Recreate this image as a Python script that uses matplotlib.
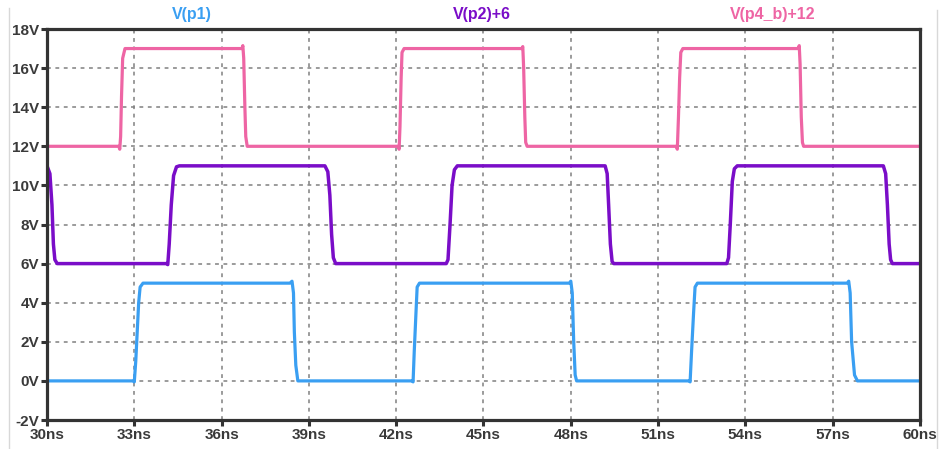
import matplotlib
matplotlib.use("Agg")
import matplotlib.pyplot as plt
from matplotlib.lines import Line2D

plt.rcParams['font.family'] = ['Liberation Sans', 'DejaVu Sans']

# breakpoints (time in ns, volts)
t_p1 = [30, 32.98, 33.0, 33.05, 33.1, 33.15, 33.2, 33.3,
        38.35, 38.42, 38.47, 38.5, 38.55, 38.62,
        42.56, 42.58, 42.62, 42.68, 42.72, 42.8,
        47.95, 48.0, 48.05, 48.1, 48.15, 48.2,
        52.08, 52.1, 52.15, 52.22, 52.27, 52.35,
        57.5, 57.55, 57.6, 57.65, 57.75, 57.85, 60]
v_p1 = [0, 0, -0.05, 1.0, 2.5, 4.0, 4.8, 5.0,
        5.0, 5.1, 4.5, 2.5, 0.8, 0.0,
        0.0, -0.05, 1.5, 3.5, 4.8, 5.0,
        5.0, 5.1, 4.5, 2.0, 0.3, 0.0,
        0.0, -0.05, 1.5, 3.5, 4.8, 5.0,
        5.0, 5.1, 4.5, 2.0, 0.3, 0.0, 0.0]

t_p2 = [30, 30.1, 30.17, 30.22, 30.27, 30.35,
        34.12, 34.15, 34.2, 34.27, 34.35, 34.45, 34.55,
        39.55, 39.65, 39.72, 39.78, 39.84, 39.92,
        43.72, 43.78, 43.85, 43.92, 44.0, 44.1,
        49.18, 49.25, 49.3, 49.36, 49.42, 49.48,
        53.36, 53.42, 53.48, 53.55, 53.62, 53.72,
        58.74, 58.82, 58.88, 58.94, 58.99, 59.05, 60]
v_p2 = [11.0, 10.6, 9.0, 7.0, 6.2, 6.0,
        6.0, 5.95, 7.0, 9.0, 10.5, 10.95, 11.0,
        11.0, 10.7, 9.5, 7.5, 6.3, 6.0,
        6.0, 6.2, 8.0, 10.0, 10.8, 11.0,
        11.0, 10.6, 9.0, 7.0, 6.1, 6.0,
        6.0, 6.3, 8.0, 10.2, 10.85, 11.0,
        11.0, 10.6, 9.0, 7.0, 6.2, 6.0, 6.0]

t_p4 = [30, 32.47, 32.5, 32.53, 32.56, 32.6, 32.68,
        36.7, 36.73, 36.76, 36.8, 36.83, 36.88,
        42.07, 42.1, 42.13, 42.17, 42.2, 42.27,
        46.32, 46.35, 46.38, 46.42, 46.45, 46.5,
        51.63, 51.66, 51.7, 51.74, 51.78, 51.85,
        55.82, 55.85, 55.88, 55.92, 55.96, 56.0, 60]
v_p4 = [12, 12, 11.85, 12.5, 14.5, 16.5, 17.0,
        17.0, 17.15, 16.5, 14.0, 12.5, 12.0,
        12.0, 11.85, 13.0, 15.5, 16.8, 17.0,
        17.0, 17.1, 16.0, 13.5, 12.2, 12.0,
        12.0, 11.85, 13.5, 15.5, 16.8, 17.0,
        17.0, 17.15, 16.2, 13.5, 12.2, 12.0, 12.0]

x_ticks = list(range(30, 61, 3))
y_ticks = list(range(-2, 19, 2))
names = ['V(p1)', 'V(p2)+6', 'V(p4_b)+12']
colors = ['#3a9ff2', '#7a0dc8', '#ee65a4']

fig = plt.figure(figsize=(9.39, 4.49), dpi=100)
ax = fig.add_axes([47 / 939, 1 - 420 / 449, 873 / 939, 391 / 449])

ax.plot(t_p4, v_p4, color=colors[2], lw=2.3, solid_joinstyle='round')
ax.plot(t_p2, v_p2, color=colors[1], lw=2.5, solid_joinstyle='round')
ax.plot(t_p1, v_p1, color=colors[0], lw=2.3, solid_joinstyle='round')

ax.set_xlim(30, 60)
ax.set_ylim(-2, 18)
ax.set_xticks(x_ticks)
ax.set_xticklabels([f'{x}ns' for x in x_ticks])
ax.set_yticks(y_ticks)
ax.set_yticklabels([f'{y}V' for y in y_ticks])

ax.grid(True, color='#808080', linestyle=(0, (2.5, 3)), linewidth=1.1)
for s in ax.spines.values():
    s.set_color('#333333')
    s.set_linewidth(2.3)
ax.tick_params(direction='out', length=4.5, width=2.2, color='#333333',
               labelsize=11, labelcolor='#3a3a3a', pad=1)
for lab in ax.get_xticklabels() + ax.get_yticklabels():
    lab.set_fontweight('bold')

# trace names across the top
title_x = [192, 482, 773]
for name, c, x in zip(names, colors, title_x):
    fig.text(x / 939, 1 - 15 / 449, name, color=c, fontsize=11.5,
             fontweight='bold', ha='center', va='center')

# faint screenshot border
fig.add_artist(Line2D([9 / 939, 9 / 939], [0, 1 - 8 / 449], color='#d8d8d8', lw=1))
fig.add_artist(Line2D([937 / 939, 937 / 939], [0, 1 - 10 / 449], color='#d8d8d8', lw=1))

fig.savefig('out.png', dpi=100)
